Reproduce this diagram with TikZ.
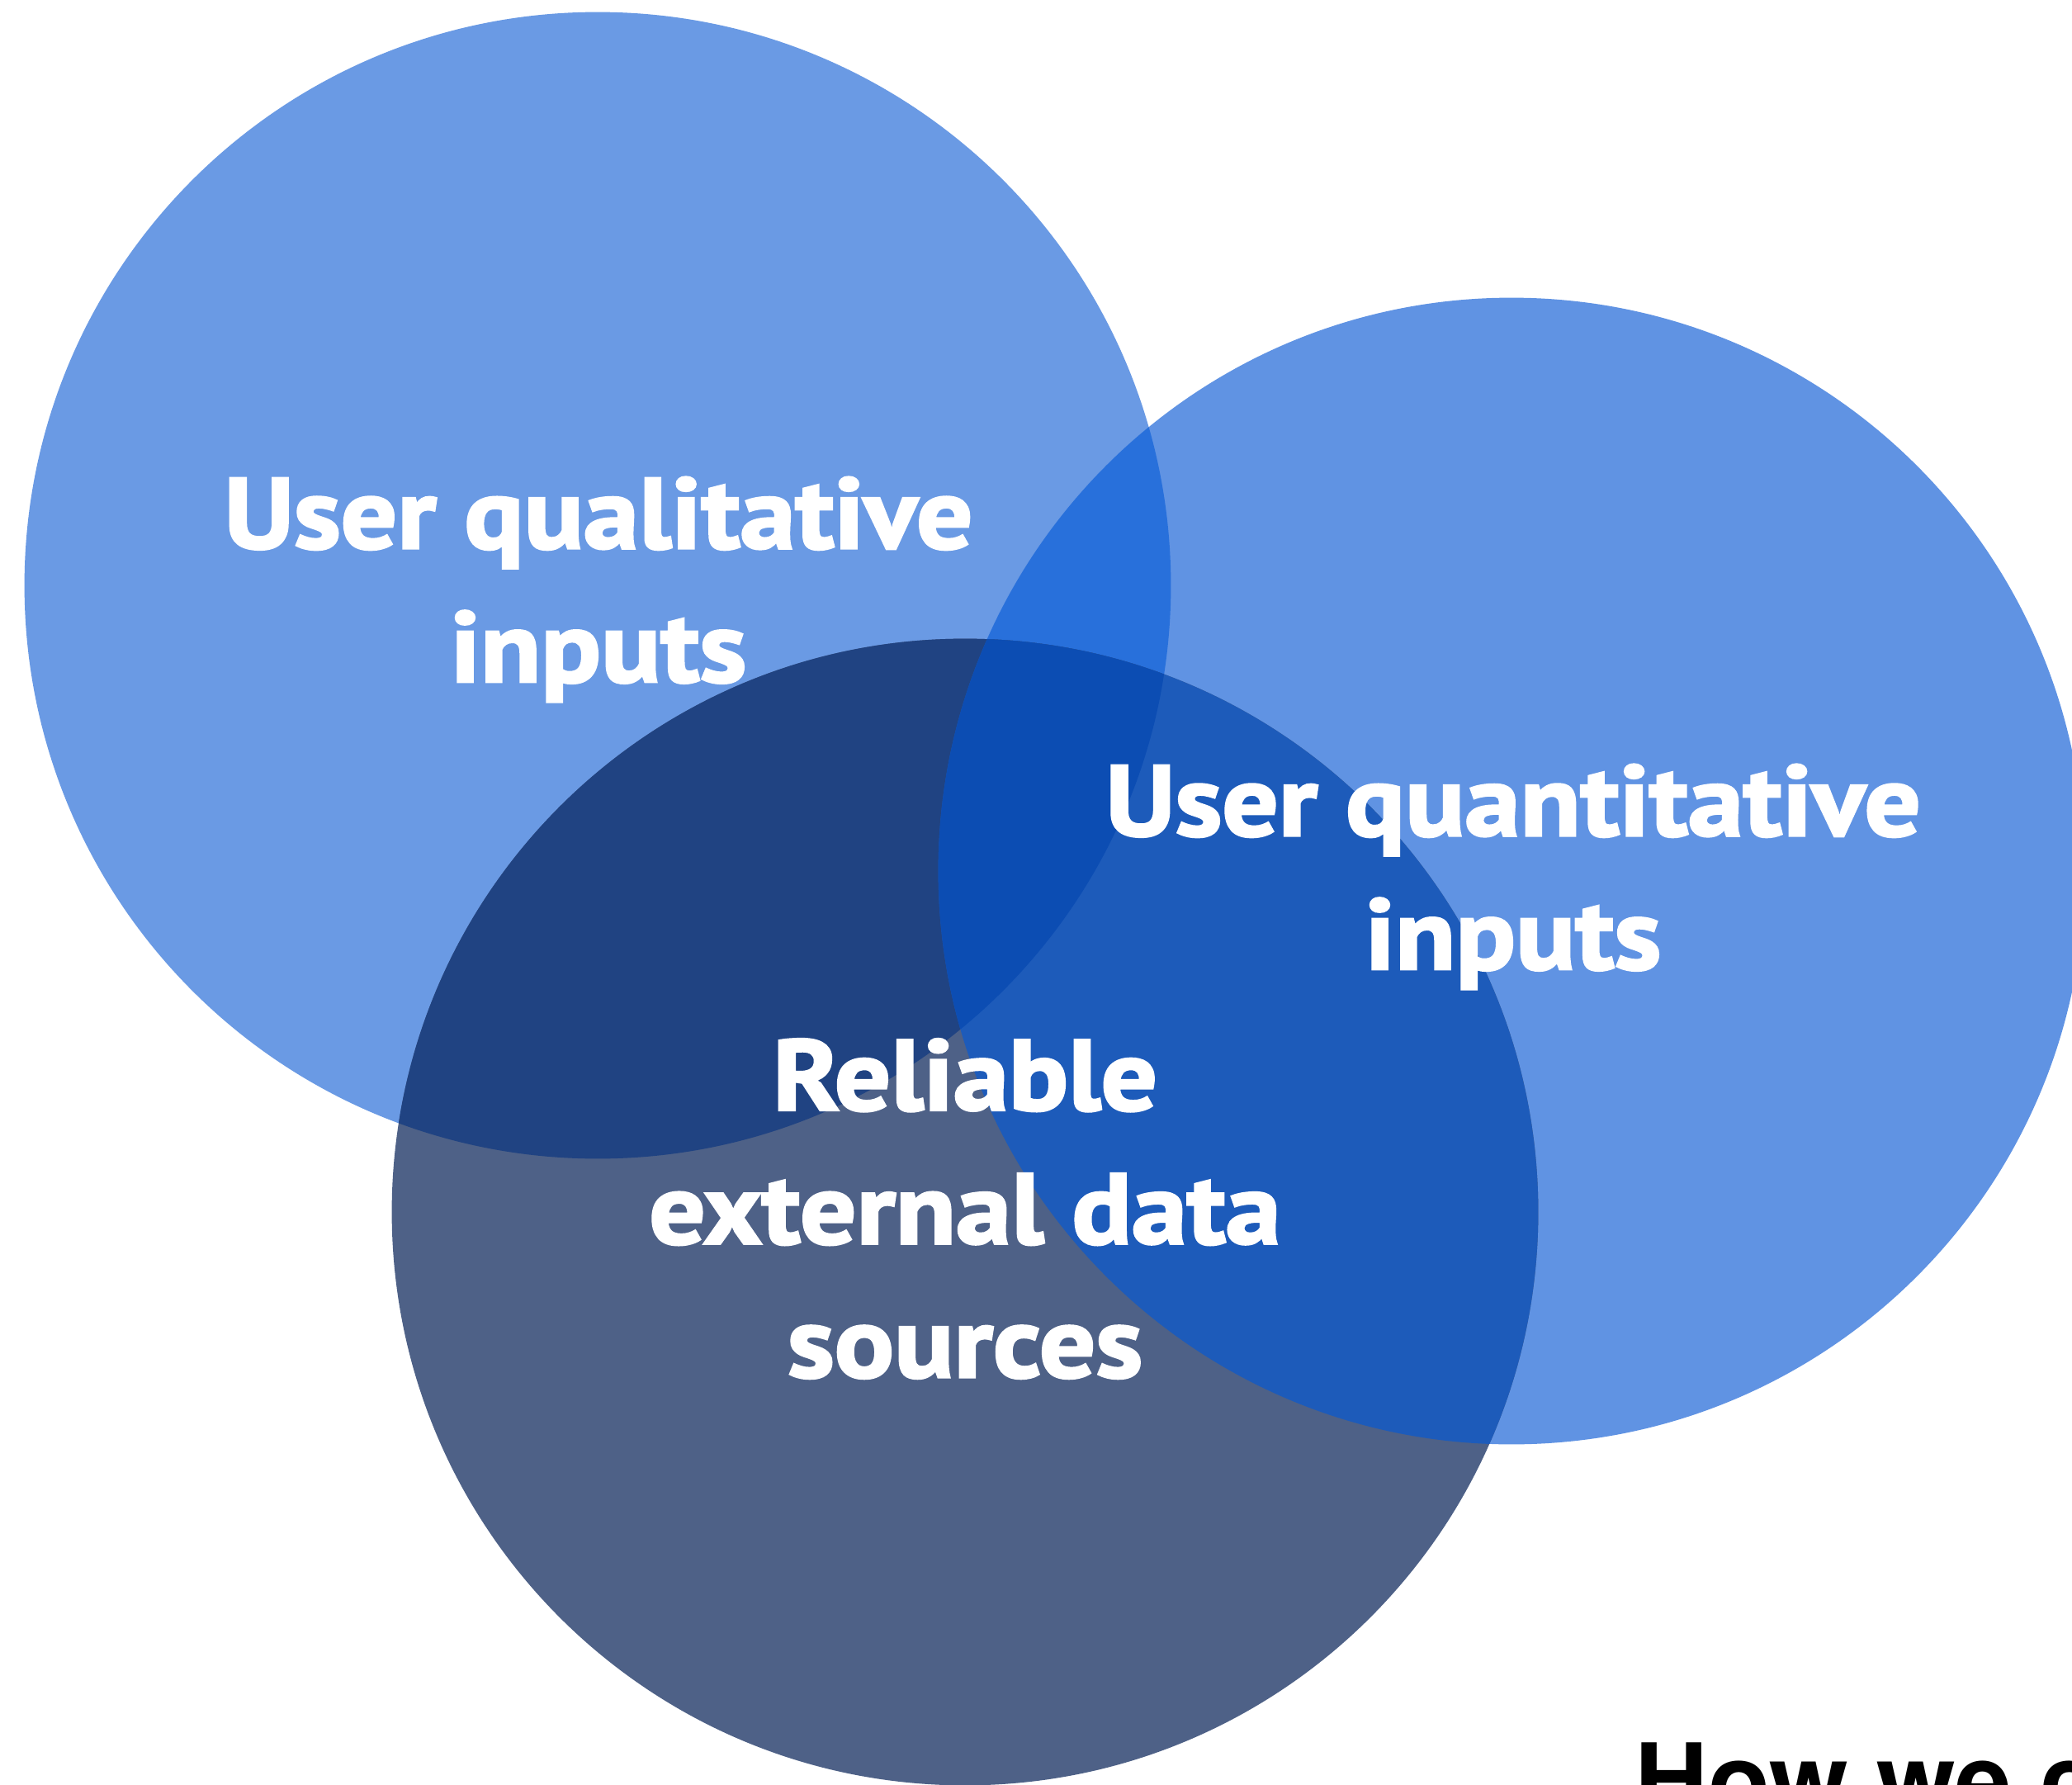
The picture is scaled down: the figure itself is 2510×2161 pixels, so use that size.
\documentclass[tikz,border=0pt]{standalone}
\usepackage{fontspec}
\usepackage{tikz}
\newfontfamily\vennfont[FakeStretch=1.11,FakeBold=2.5]{PT Sans}
\newfontfamily\headfont{TeX Gyre Heros}

\definecolor{qualcol}{HTML}{6A9AE4}
\definecolor{quantcol}{HTML}{6093E3}
\definecolor{qualquantcol}{HTML}{2870DB}
\definecolor{extcol}{HTML}{4E6187}
\definecolor{qualextcol}{HTML}{204382}
\definecolor{quantextcol}{HTML}{1D5BBA}
\definecolor{allcol}{HTML}{0C4DB3}

\tikzset{
  venntext/.style={text=white, align=center,
    font=\vennfont\bfseries\fontsize{34.5}{46}\selectfont},
  disc/.style={radius=6.94cm}
}

\begin{document}
\begin{tikzpicture}[x=0.01cm, y=-0.01cm]
	\useasboundingbox[fill=white] (0,0) rectangle (2510,2161);

	\coordinate (qual) at (724,709);
	\coordinate (quant) at (1831,1055);
	\coordinate (ext) at (1169,1468);

	\fill[qualcol] (qual) circle[disc];
	\fill[quantcol] (quant) circle[disc];
	\begin{scope}
		\clip (qual) circle[disc];
		\fill[qualquantcol] (quant) circle[disc];
	\end{scope}

	\fill[extcol] (ext) circle[disc];
	\begin{scope}
		\clip (ext) circle[disc];
		\fill[qualextcol] (qual) circle[disc];
		\fill[quantextcol] (quant) circle[disc];
		\clip (qual) circle[disc];
		\fill[allcol] (quant) circle[disc];
	\end{scope}

	\node[venntext] (qualtext) at (725,714) {User qualitative\\inputs};
	\node[venntext] (quanttext) at (1833,1062) {User quantitative\\inputs};
	\node[venntext] (exttext) at (1169,1464) {Reliable\\external data\\sources};

	\node[anchor=base west, inner sep=0pt, font=\headfont\bfseries\fontsize{35}{42}\selectfont] (howtext) at (1980,2200) {How we c};
\end{tikzpicture}
\end{document}
